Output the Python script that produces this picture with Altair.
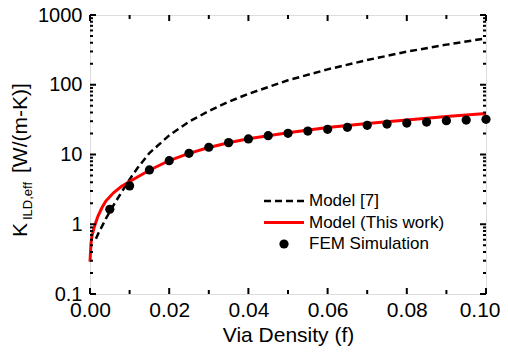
import altair as alt
import pandas as pd

# FEM simulation points
fem_f = [0.005, 0.010, 0.015, 0.020, 0.025, 0.030, 0.035, 0.040, 0.045, 0.050,
         0.055, 0.060, 0.065, 0.070, 0.075, 0.080, 0.085, 0.090, 0.095, 0.100]
fem_k = [1.64, 3.55, 6.0, 8.15, 10.4, 12.7, 14.8, 16.7, 18.6, 20.1,
         21.7, 23.0, 24.5, 26.2, 27.3, 28.2, 29.2, 30.5, 31.2, 32.0]

# Model (This work) - red solid
red_f = [0.0, 0.00025, 0.0005, 0.001, 0.0015, 0.002, 0.003, 0.004, 0.006, 0.008,
         0.010, 0.015, 0.020, 0.025, 0.030, 0.035, 0.040, 0.050, 0.060, 0.070,
         0.080, 0.090, 0.100]
red_k = [0.29, 0.53, 0.68, 0.88, 1.08, 1.3, 1.72, 2.15, 2.85, 3.5,
         4.1, 5.95, 8.2, 10.4, 12.6, 14.7, 16.8, 20.5, 24.3, 27.8,
         31.3, 35.0, 38.6]

# Model [7] - black dashed
dash_f = [0.0015, 0.002, 0.004, 0.006, 0.008, 0.010, 0.012, 0.015, 0.020, 0.025,
          0.030, 0.035, 0.040, 0.050, 0.060, 0.070, 0.080, 0.090, 0.100]
dash_k = [0.62, 0.72, 1.2, 1.9, 2.9, 4.4, 6.4, 10.5, 18.8, 29.5,
          42.0, 57.0, 74.0, 116.0, 166.0, 226.0, 298.0, 376.0, 462.0]

x_major = [0.0, 0.02, 0.04, 0.06, 0.08, 0.10]
x_minor = [0.01, 0.03, 0.05, 0.07, 0.09]
y_major = [0.1, 1, 10, 100, 1000]
y_minor = [m * d for d in [0.1, 1, 10, 100] for m in range(2, 10)]

legend_labels = ["Model [7]", "Model (This work)", "FEM Simulation"]

FONT = "Liberation Sans"
W, H = 396, 279

xs = alt.Scale(domain=[0, 0.1], nice=False, zero=False)
ys = alt.Scale(type="log", domain=[0.1, 1000], nice=False)

xaxis = alt.Axis(values=x_major, format=".2f", ticks=False, domain=False, grid=False,
                 labelFontSize=21, labelFont=FONT, labelColor="black", labelPadding=5,
                 labelFlush=False,
                 labelAlign={"condition": {"test": "datum.value > 0.099", "value": "right"},
                             "value": "center"},
                 labelOffset={"condition": {"test": "datum.value > 0.099", "value": 14},
                              "value": 0},
                 title="Via Density (f)", titleFont=FONT,
                 titleFontSize=21, titleFontWeight="normal", titleColor="black",
                 titlePadding=4)
yaxis = alt.Axis(values=y_major, format="~g", ticks=False, domain=False, grid=False,
                 labelFontSize=20, labelFont=FONT, labelColor="black", labelPadding=8,
                 labelFlush=False, title=None)

fem_df = pd.DataFrame({"f": fem_f, "k": fem_k})
red_df = pd.DataFrame({"f": red_f, "k": red_k})
dash_df = pd.DataFrame({"f": dash_f, "k": dash_k})

dash_line = alt.Chart(dash_df).mark_line(color="black", strokeWidth=2.5, strokeDash=[7, 4]).encode(
    x=alt.X("f:Q", scale=xs, axis=xaxis),
    y=alt.Y("k:Q", scale=ys, axis=yaxis),
)
red_line = alt.Chart(red_df).mark_line(color="#ff0000", strokeWidth=3).encode(
    x=alt.X("f:Q", scale=xs), y=alt.Y("k:Q", scale=ys))
dots = alt.Chart(fem_df).mark_circle(color="black", opacity=1, size=85).encode(
    x=alt.X("f:Q", scale=xs), y=alt.Y("k:Q", scale=ys))

def xticks(vals, length):
    d = pd.DataFrame({"f": vals})
    b = alt.Chart(d).mark_rule(color="black", strokeWidth=2).encode(
        x=alt.X("f:Q", scale=xs), y=alt.value(H), y2=alt.value(H - length))
    t = alt.Chart(d).mark_rule(color="black", strokeWidth=2).encode(
        x=alt.X("f:Q", scale=xs), y=alt.value(0), y2=alt.value(length))
    return [b, t]

def yticks(vals, length):
    d = pd.DataFrame({"k": vals})
    l = alt.Chart(d).mark_rule(color="black", strokeWidth=2).encode(
        y=alt.Y("k:Q", scale=ys), x=alt.value(0), x2=alt.value(length))
    r = alt.Chart(d).mark_rule(color="black", strokeWidth=2).encode(
        y=alt.Y("k:Q", scale=ys), x=alt.value(W), x2=alt.value(W - length))
    return [l, r]

ticks = xticks(x_major, 6) + xticks(x_minor, 4) + yticks(y_major, 6) + yticks(y_minor, 3)

# Y-axis title with subscript
yt1 = alt.Chart(pd.DataFrame({"t": ["K"]})).mark_text(
    angle=270, align="left", baseline="alphabetic", font=FONT, fontSize=21, color="black"
).encode(text="t:N", x=alt.value(-63), y=alt.value(222))
yt2 = alt.Chart(pd.DataFrame({"t": ["ILD,eff"]})).mark_text(
    angle=270, align="left", baseline="alphabetic", font=FONT, fontSize=13, color="black"
).encode(text="t:N", x=alt.value(-58), y=alt.value(205))
yt3 = alt.Chart(pd.DataFrame({"t": ["[W/(m-K)]"]})).mark_text(
    angle=270, align="left", baseline="alphabetic", font=FONT, fontSize=21, color="black"
).encode(text="t:N", x=alt.value(-63), y=alt.value(158))

# Legend
leg_dash = alt.Chart(pd.DataFrame({"a": [0]})).mark_rule(
    color="black", strokeWidth=2.5, strokeDash=[7, 4]).encode(
    x=alt.value(174), x2=alt.value(214), y=alt.value(186))
leg_red = alt.Chart(pd.DataFrame({"a": [0]})).mark_rule(
    color="#ff0000", strokeWidth=3).encode(
    x=alt.value(174), x2=alt.value(214), y=alt.value(207.5))
leg_dot = alt.Chart(pd.DataFrame({"a": [0]})).mark_circle(
    color="black", opacity=1, size=85).encode(x=alt.value(194), y=alt.value(229))
leg_text = [
    alt.Chart(pd.DataFrame({"t": [lab]})).mark_text(
        align="left", baseline="middle", font=FONT, fontSize=17, color="black"
    ).encode(text="t:N", x=alt.value(219), y=alt.value(yy))
    for lab, yy in zip(legend_labels, [186, 207.5, 229])
]

chart = alt.layer(
    dash_line, red_line, dots, *ticks, yt1, yt2, yt3, leg_dash, leg_red, leg_dot, *leg_text
).properties(
    width=W, height=H,
    autosize=alt.AutoSizeParams(type="none"),
    padding={"left": 82, "top": 7, "right": 14, "bottom": 52},
).configure_view(stroke="black", strokeWidth=2.5).configure(background="white")

chart.save("out.html", embed_options={"renderer": "svg", "actions": False})
